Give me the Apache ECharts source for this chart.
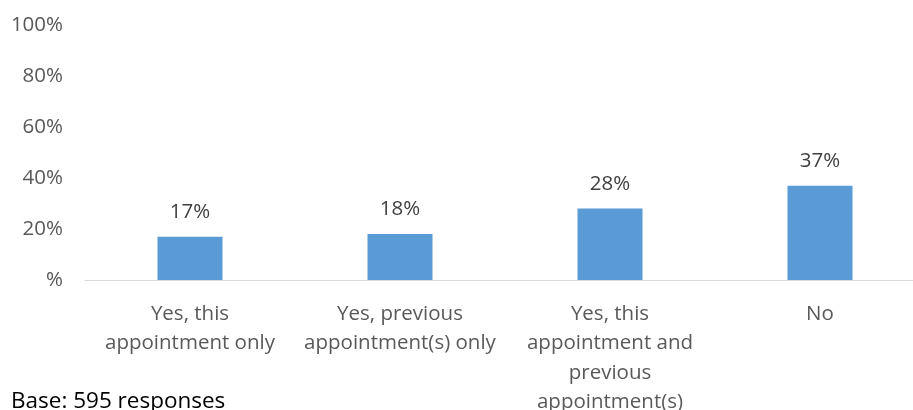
<!DOCTYPE html>
<html>
<head>
<meta charset="utf-8">
<script src="https://cdn.jsdelivr.net/npm/echarts@6/dist/echarts.min.js"></script>
<style>
  html, body { margin: 0; padding: 0; background: #fff; overflow: hidden; width: 913px; height: 410px; }
  #chart { width: 925px; height: 410px; }
</style>
</head>
<body>
<div id="chart"></div>
<script>
// Answer categories (line breaks as displayed under the axis)
const categories = [
  'Yes, this\nappointment only',
  'Yes, previous\nappointment(s) only',
  'Yes, this\nappointment and\nprevious\nappointment(s)',
  'No'
];
// Share of responses, percent
const values = [17, 18, 28, 37];
// Value axis ticks
const yTicks = [0, 20, 40, 60, 80, 100];
const baseNote = 'Base: 595 responses';

const FONT = '"Open Sans", sans-serif';
const FS = 20.5;
const chart = echarts.init(document.getElementById('chart'), null, { renderer: 'canvas' });

chart.setOption({
  animation: false,
  backgroundColor: '#ffffff',
  grid: {
    left: 85, top: 25, right: 0, height: 255,
    containLabel: false,
    outerBoundsMode: 'none'
  },
  xAxis: {
    type: 'category',
    data: categories,
    axisLine: { show: true, lineStyle: { color: '#d9d9d9', width: 1 } },
    axisTick: { show: false },
    axisLabel: {
      interval: 0,
      margin: 19,
      color: '#595959',
      fontFamily: FONT,
      fontSize: FS,
      lineHeight: 29.5,
      align: 'center'
    }
  },
  yAxis: {
    type: 'value',
    min: yTicks[0],
    max: yTicks[yTicks.length - 1],
    interval: yTicks[1] - yTicks[0],
    axisLine: { show: false },
    axisTick: { show: false },
    splitLine: { show: false },
    axisLabel: {
      margin: 22,
      color: '#595959',
      fontFamily: FONT,
      fontSize: FS,
      formatter: v => (v === 0 ? '%' : v + '%')
    }
  },
  series: [{
    type: 'bar',
    data: values,
    barWidth: 65,
    itemStyle: { color: '#5b9bd5' },
    label: {
      show: true,
      position: 'top',
      distance: 14,
      color: '#404040',
      fontFamily: FONT,
      fontSize: FS,
      formatter: p => p.value + '%'
    }
  }],
  graphic: [{
    type: 'text',
    left: 11,
    top: 390,
    style: {
      text: baseNote,
      fill: '#000000',
      font: '22.5px ' + FONT
    }
  }]
});
</script>
</body>
</html>
